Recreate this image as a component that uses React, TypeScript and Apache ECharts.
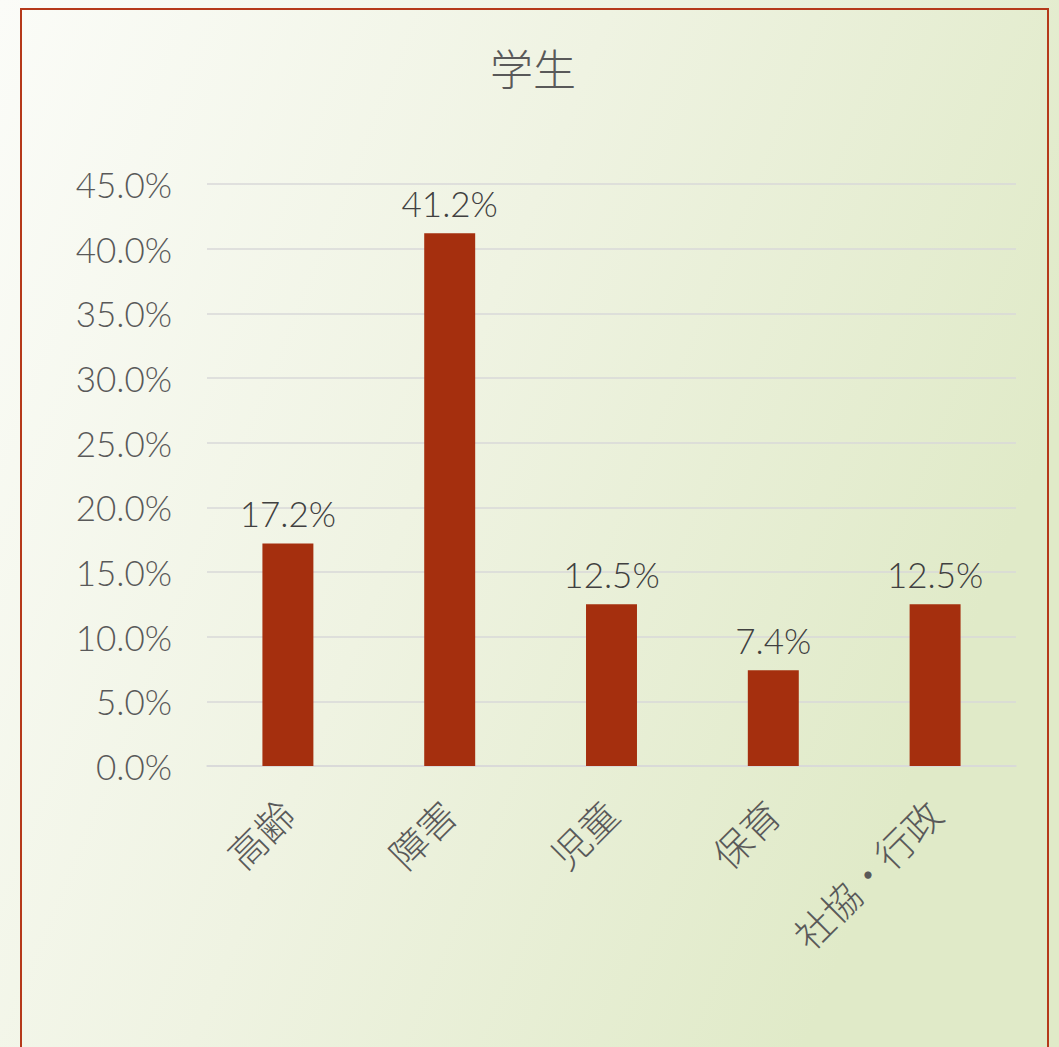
import React, { useEffect, useRef } from "react";
import * as echarts from "echarts";

const titleText = "学生";
const categories = ["高齢", "障害", "児童", "保育", "社協・行政"];
const values = [17.2, 41.2, 12.5, 7.4, 12.5];
const yMin = 0;
const yMax = 45;
const yInterval = 5;

const FONT = "Lato, 'Noto Sans CJK JP', sans-serif";

export default function App() {
  const ref = useRef<HTMLDivElement>(null);
  useEffect(() => {
    if (!ref.current) return;
    const chart = echarts.init(ref.current, undefined, { renderer: "svg" });
    chart.setOption({
      animation: false,
      backgroundColor: new echarts.graphic.LinearGradient(0, 0, 1, 0.4, [
        { offset: 0, color: "#FBFCF8" },
        { offset: 0.5, color: "#EFF3E2" },
        { offset: 1, color: "#E0EAC8" },
      ]),
      title: {
        text: titleText,
        left: 490,
        top: 48,
        padding: 0,
        textStyle: { fontFamily: FONT, fontSize: 43, fontWeight: 300, color: "#595959" },
      },
      graphic: [
        {
          type: "rect",
          shape: { x: 21, y: 9, width: 1027, height: 1100 },
          style: { fill: "none", stroke: "#B5391A", lineWidth: 2 },
          silent: true,
        },
      ],
      grid: { left: 207, right: 43, top: 184, bottom: 281, containLabel: false },
      xAxis: {
        type: "category",
        data: categories,
        axisLine: { show: true, lineStyle: { color: "#D9D9D9", width: 1.5 } },
        axisTick: { show: false },
        axisLabel: {
          rotate: 45,
          margin: 42,
          interval: 0,
          fontFamily: FONT,
          fontSize: 38,
          fontWeight: 300,
          color: "#595959",
        },
      },
      yAxis: {
        type: "value",
        min: yMin,
        max: yMax,
        interval: yInterval,
        axisLine: { show: false },
        axisTick: { show: false },
        splitLine: { lineStyle: { color: "#D9D9D9", width: 1.5 } },
        axisLabel: {
          margin: 35,
          fontFamily: FONT,
          fontSize: 35,
          fontWeight: 300,
          color: "#595959",
          formatter: (v: number) => v.toFixed(1) + "%",
        },
      },
      series: [
        {
          type: "bar",
          data: values,
          barWidth: "31.5%",
          itemStyle: { color: "#A52F0E" },
          label: {
            show: true,
            position: "top",
            distance: 13,
            fontFamily: FONT,
            fontSize: 35,
            fontWeight: 300,
            color: "#404040",
            formatter: (p: any) => p.value.toFixed(1) + "%",
          },
        },
      ],
    });
    return () => chart.dispose();
  }, []);
  return (
    <div
      ref={ref}
      style={{ position: "fixed", left: 0, top: 0, width: 1059, height: 1047 }}
    />
  );
}
